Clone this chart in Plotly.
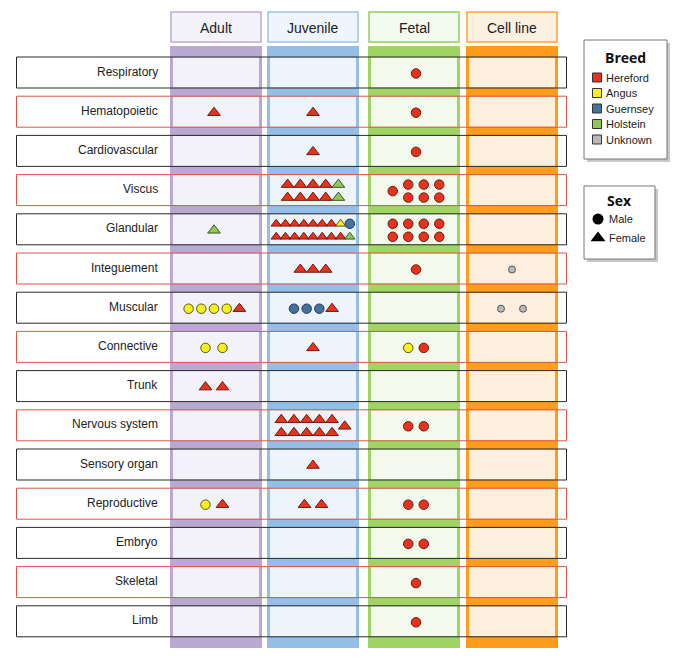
import plotly.graph_objects as go

# ---------------- data ----------------
organs = ["Respiratory", "Hematopoietic", "Cardiovascular", "Viscus", "Glandular",
          "Integuement", "Muscular", "Connective", "Trunk", "Nervous system",
          "Sensory organ", "Reproductive", "Embryo", "Skeletal", "Limb"]
stages = ["Adult", "Juvenile", "Fetal", "Cell line"]
breeds = ["Hereford", "Angus", "Guernsey", "Holstein", "Unknown"]
breed_codes = ["H", "A", "G", "L", "U"]
sexes = ["Male", "Female"]
sex_codes = ["m", "f"]

# each cell: groups separated by spaces, stacked samples separated by "/"
# code = breed letter + sex letter
adult = ["", "Hf", "", "", "Lf", "", "Am Am Am Am Hf", "Am Am", "Hf Hf", "", "",
         "Am Hf", "", "", ""]
juvenile = ["", "Hf", "Hf", "Hf/Hf Hf/Hf Hf/Hf Hf/Hf Lf/Lf",
            "Hf/Hf Hf/Hf Hf/Hf Hf/Hf Hf/Hf Hf/Hf Hf/Hf Af/Hf Gm/Lf",
            "Hf Hf Hf", "Gm Gm Gm Hf", "Hf", "", "Hf/Hf Hf/Hf Hf/Hf Hf/Hf Hf/Hf Hf",
            "Hf", "Hf Hf", "", "", ""]
fetal = ["Hm", "Hm", "Hm", "Hm Hm/Hm Hm/Hm Hm/Hm", "Hm/Hm Hm/Hm Hm/Hm Hm/Hm", "Hm", "",
         "Am Hm", "", "Hm Hm", "", "Hm Hm", "Hm Hm", "Hm", "Hm"]
cell_line = ["", "", "", "", "", "Um", "Um Um", "", "", "", "", "", "", "", ""]
cells = [adult, juvenile, fetal, cell_line]

# ---------------- styles ----------------
W, H = 685, 657
band_x = [(170, 262), (267, 359), (368, 460), (466, 558)]
marker_cx = [214, 313, 416, 512]
band_color = ["#b9a9d2", "#95bee7", "#a0d463", "#fe9c1c"]
cell_color = ["#f3f2f8", "#eef4fb", "#f3f9ec", "#fdeedd"]
head_fill = ["#f5f3fa", "#eef5fc", "#f3faee", "#fdf0e0"]
head_line = ["#bcaad4", "#9cc3ea", "#93d05a", "#f9a53e"]
breed_fill = {"H": "#e8321e", "A": "#f8ef1e", "G": "#44729e", "L": "#90c657", "U": "#b8b8b8"}
breed_line = {"H": "#701a0f", "A": "#5a5520", "G": "#243f5c", "L": "#3d5a22", "U": "#555555"}
row_top0, row_pitch, row_h = 57, 39.2, 31
band_top, band_bot = 46, 648

shapes = []
annotations = []

# column bands
for j, (x0, x1) in enumerate(band_x):
    shapes.append(dict(type="rect", x0=x0, x1=x1, y0=band_top, y1=band_bot,
                       fillcolor=band_color[j], line=dict(width=0), layer="below"))
    # header
    shapes.append(dict(type="rect", x0=x0 + 1, x1=x1 - 1, y0=12, y1=42,
                       fillcolor=head_fill[j], line=dict(color=head_line[j], width=1.5), layer="below"))
    annotations.append(dict(x=(x0 + x1) / 2, y=27.5, text=stages[j], showarrow=False,
                            font=dict(family="Liberation Sans, Arial", size=14, color="#222"),
                            xanchor="center", yanchor="middle"))

# rows
for i, org in enumerate(organs):
    y0 = row_top0 + i * row_pitch
    y1 = y0 + row_h
    for j, (x0, x1) in enumerate(band_x):
        shapes.append(dict(type="rect", x0=x0 + 3, x1=x1 - 3, y0=y0 + 0.5, y1=y1 - 0.5,
                           fillcolor=cell_color[j], line=dict(width=0), layer="below"))
    col = "#2a2a2a" if i % 2 == 0 else "#d8574c"
    shapes.append(dict(type="rect", x0=16.5, x1=566.5, y0=y0, y1=y1,
                       fillcolor="rgba(0,0,0,0)", line=dict(color=col, width=1), layer="above"))
    annotations.append(dict(x=160, y=(y0 + y1) / 2 - 1, text=org, showarrow=False,
                            font=dict(family="Liberation Sans, Arial", size=12, color="#222"),
                            xanchor="right", yanchor="middle"))

# markers
pts = {}
for j, col_cells in enumerate(cells):
    for i, s in enumerate(col_cells):
        groups = s.split()
        n = len(groups)
        if n == 0:
            continue
        if j == 2:
            sp = 15.5
        elif j == 3:
            sp = 22
        else:
            sp = 17 if n == 2 else (12.7 if n <= 6 else 9.2)
        cy = row_top0 + i * row_pitch + row_h / 2 + 1
        for g, grp in enumerate(groups):
            items = grp.split("/")
            m = len(items)
            x = marker_cx[j] + (g - (n - 1) / 2) * sp
            for k, code in enumerate(items):
                y = cy + (k - (m - 1) / 2) * 13
                dense = sp < 10
                pts.setdefault((code[0], code[1], dense), ([], []))
                pts[(code[0], code[1], dense)][0].append(x)
                pts[(code[0], code[1], dense)][1].append(y)

traces = []
for (b, sx, dense), (xs, ys) in pts.items():
    if sx == "m":
        sym, size = "circle", (7 if b == "U" else 9.5)
    else:
        sym, size = "triangle-up", (9 if dense else 11)
    traces.append(go.Scatter(x=xs, y=ys, mode="markers", hoverinfo="skip",
                             marker=dict(symbol=sym, size=size, color=breed_fill[b],
                                         line=dict(color=breed_line[b], width=1))))

# legend boxes (with shadow)
def box(x0, y0, x1, y1):
    shapes.append(dict(type="rect", x0=x0 + 3, x1=x1 + 3, y0=y0 + 3, y1=y1 + 3,
                       fillcolor="rgba(0,0,0,0.22)", line=dict(width=0), layer="below"))
    shapes.append(dict(type="rect", x0=x0, x1=x1, y0=y0, y1=y1,
                       fillcolor="white", line=dict(color="#777", width=1), layer="below"))

box(584, 40, 667, 159)
box(584, 186, 655, 259)

annotations.append(dict(x=625, y=57, text="<b>Breed</b>", showarrow=False,
                        font=dict(family="Open Sans", size=14, color="#111"),
                        xanchor="center", yanchor="middle"))
leg_x, leg_y = [], []
for k, b in enumerate(breeds):
    yy = 77.5 + k * 15.5
    leg_x.append(597)
    leg_y.append(yy)
    annotations.append(dict(x=604, y=yy, text=b, showarrow=False,
                            font=dict(family="Liberation Sans, Arial", size=11, color="#222"),
                            xanchor="left", yanchor="middle"))
traces.append(go.Scatter(x=leg_x, y=leg_y, mode="markers", hoverinfo="skip",
                         marker=dict(symbol="square", size=9,
                                     color=[breed_fill[c] for c in breed_codes],
                                     line=dict(color="#333", width=1))))

annotations.append(dict(x=619, y=200, text="<b>Sex</b>", showarrow=False,
                        font=dict(family="Open Sans", size=14, color="#111"),
                        xanchor="center", yanchor="middle"))
sex_sym = ["circle", "triangle-up"]
sex_size = [11, 13]
for k, sname in enumerate(sexes):
    yy = 219 + k * 19
    traces.append(go.Scatter(x=[598], y=[yy], mode="markers", hoverinfo="skip",
                             marker=dict(symbol=sex_sym[k], size=sex_size[k], color="black")))
    annotations.append(dict(x=607, y=yy, text=sname, showarrow=False,
                            font=dict(family="Liberation Sans, Arial", size=11, color="#222"),
                            xanchor="left", yanchor="middle"))

fig = go.Figure(traces)
fig.update_layout(width=W, height=H, margin=dict(l=0, r=0, t=0, b=0),
                  paper_bgcolor="white", plot_bgcolor="white", showlegend=False,
                  shapes=shapes, annotations=annotations,
                  xaxis=dict(range=[0, W], visible=False, fixedrange=True),
                  yaxis=dict(range=[H, 0], visible=False, fixedrange=True))
fig.write_html("out.html", config={"displayModeBar": False},
               post_script="document.body.style.margin='0';document.body.style.overflow='hidden';")
